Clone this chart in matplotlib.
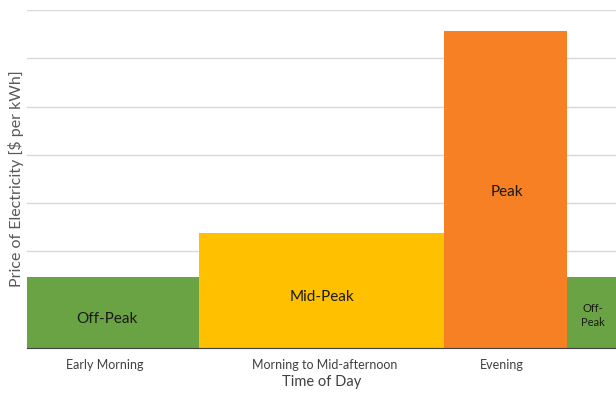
import numpy as np
from matplotlib import pyplot as plt

plt.rcParams['font.family'] = ['Lato', 'DejaVu Sans']

# time-of-use periods (hours of day) and prices
starts = [0, 7, 17, 22]
ends = [7, 17, 22, 24]
prices = [1.48, 2.38, 6.56, 1.48]
colors = ['#6AA343', '#FFC000', '#F68023', '#6AA343']
bar_labels = ['Off-Peak', 'Mid-Peak', 'Peak', 'Off-\nPeak']
label_x = [3.27, 12.03, 19.55, 23.05]
label_y = [0.6, 1.06, 3.23, 0.68]
label_size = [11, 11, 11, 8]

period_names = ['Early Morning', 'Morning to Mid-afternoon', 'Evening']
period_pos = [3.17, 12.15, 19.35]

fig = plt.figure(figsize=(6.16, 3.93), dpi=100)
ax = fig.add_axes([27/616, 45/393, 1 - 27/616, 338/393])

widths = np.array(ends) - np.array(starts)
ax.bar(starts, prices, width=widths, align='edge', color=colors,
       edgecolor='none', zorder=2)

for x, y, s, fs in zip(label_x, label_y, bar_labels, label_size):
    ax.text(x, y, s, ha='center', va='center', fontsize=fs, color='#1a1a1a',
            linespacing=1.3, zorder=3)

ax.set_xlim(0, 23.83)
ax.set_ylim(0, 7)
ax.set_yticks(range(0, 8))
ax.yaxis.grid(True, color='#D9D9D9', linewidth=1)
ax.set_axisbelow(True)
ax.tick_params(axis='y', length=0, labelleft=False)

ax.set_xticks(period_pos)
ax.set_xticklabels(period_names, fontsize=9, color='#404040')
ax.set_xticks(range(0, 25), minor=True)
ax.tick_params(axis='x', which='major', length=0, pad=8)
ax.tick_params(axis='x', which='minor', direction='in', length=3,
               color='#404040', width=0.8)

for side in ['top', 'right', 'left']:
    ax.spines[side].set_visible(False)
ax.spines['bottom'].set_color('#404040')
ax.spines['bottom'].set_zorder(4)

ax.set_xlabel('Time of Day', fontsize=10.5, color='#404040', labelpad=3)
ax.set_ylabel('Price of Electricity [$ per kWh]', fontsize=11.5,
              color='#595959', labelpad=2)

plt.savefig('out.png', dpi=100)
